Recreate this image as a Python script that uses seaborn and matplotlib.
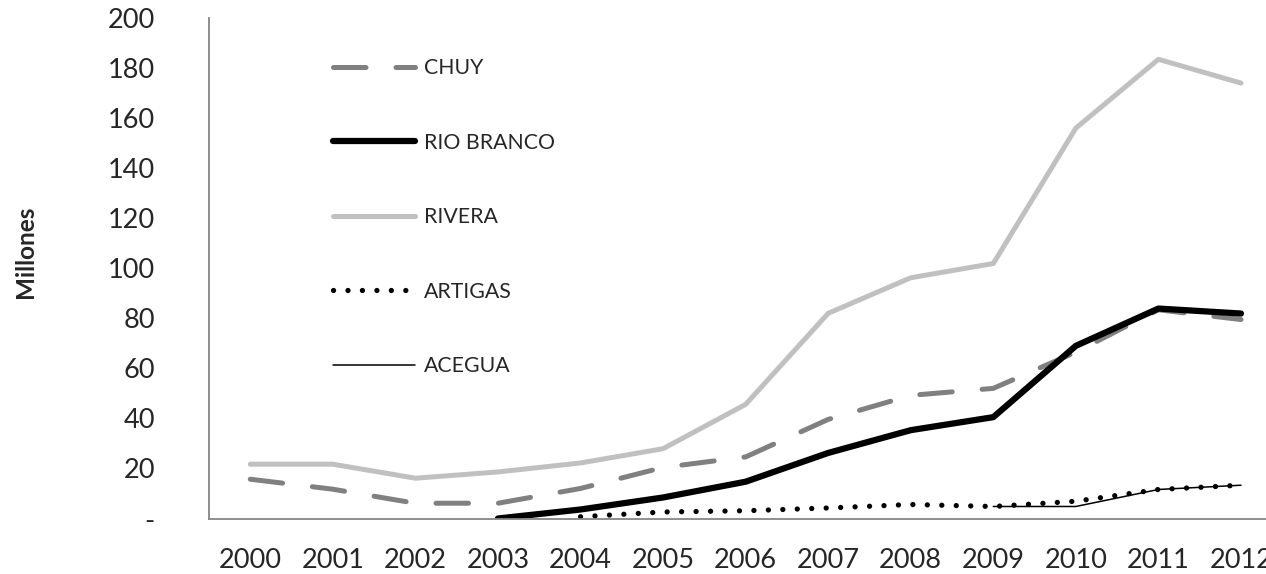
import numpy as np
import pandas as pd
import matplotlib
matplotlib.use("Agg")
import matplotlib.pyplot as plt
import seaborn as sns

# --- data (millones) ---
years = [2000, 2001, 2002, 2003, 2004, 2005, 2006, 2007, 2008, 2009, 2010, 2011, 2012]
chuy = [15.7, 11.7, 6.1, 6.1, 12.0, 20.4, 24.6, 39.6, 49.2, 52.0, 66.5, 83.4, 79.5]
rio_branco = [np.nan, np.nan, np.nan, 0.0, 3.6, 8.4, 14.7, 26.2, 35.3, 40.5, 69.0, 83.9, 81.9]
rivera = [21.7, 21.7, 16.1, 18.6, 22.2, 27.9, 45.6, 82.0, 96.2, 101.9, 156.0, 183.5, 174.0]
artigas = [np.nan, np.nan, np.nan, np.nan, 0.7, 2.6, 3.1, 4.2, 5.6, 4.8, 6.9, 11.6, 13.3]
acegua = [np.nan, np.nan, np.nan, np.nan, np.nan, np.nan, np.nan, np.nan, np.nan, 4.8, 4.8, 11.6, 13.3]
y_ticks = [0, 20, 40, 60, 80, 100, 120, 140, 160, 180, 200]

series = {
    "CHUY": chuy,
    "RIO BRANCO": rio_branco,
    "RIVERA": rivera,
    "ARTIGAS": artigas,
    "ACEGUA": acegua,
}
styles = {
    "CHUY": dict(color="#808080", lw=3.6, ls=(0, (6.5, 6.0))),
    "RIO BRANCO": dict(color="black", lw=4.5, ls="-"),
    "RIVERA": dict(color="#c0c0c0", lw=3.6, ls="-"),
    "ARTIGAS": dict(color="black", lw=3.8, ls=(0, (0.01, 2.73))),
    "ACEGUA": dict(color="black", lw=1.1, ls="-"),
}

df = pd.DataFrame(series)
df["pos"] = np.arange(len(years))

sns.set_theme(style="white")
plt.rcParams["font.family"] = ["Lato", "DejaVu Sans"]

fig = plt.figure(figsize=(12.66, 5.74), dpi=100)
ax = fig.add_axes([209 / 1266, 55.5 / 574, 1 - 209 / 1266, 500.5 / 574])

for name in series:
    st = styles[name]
    sns.lineplot(data=df, x="pos", y=name, ax=ax, color=st["color"], linewidth=st["lw"],
                 linestyle=st["ls"], label=name, solid_capstyle="round",
                 dash_capstyle="round")

# category ticks at the boundaries, labels at the centers
ax.set_xticks(np.arange(-0.5, len(years), 1.0))
ax.set_xticklabels([])
ax.set_xticks(np.arange(len(years)), minor=True)
ax.set_xticklabels([str(y) for y in years], minor=True)
ax.tick_params(axis="x", which="major", length=7, width=1.3, color="#868686", direction="out")
ax.tick_params(axis="x", which="minor", length=0, pad=21, labelsize=19.5)

ax.set_yticks(y_ticks)
ax.set_yticklabels(["-" if v == 0 else str(v) for v in y_ticks])
ax.tick_params(axis="y", length=7, width=1.3, color="#868686", direction="out", pad=32,
               labelsize=19.5)

# limits last, set_xticks would widen them otherwise
ax.set_xlim(-0.5, (1266 - 251) / 82.5)
ax.set_ylim(0, 200)

for s in ["top", "right"]:
    ax.spines[s].set_visible(False)
for s in ["left", "bottom"]:
    ax.spines[s].set_color("#868686")
    ax.spines[s].set_linewidth(1.3)

ax.set_xlabel("")
ax.set_ylabel("Millones", fontsize=17.5, fontweight="bold")
ax.yaxis.set_label_coords(37 / 1266, (574 - 252) / 574, transform=fig.transFigure)

leg = ax.legend(loc="upper left", bbox_to_anchor=((333 - 209) / 1057, 1 - (58 - 18) / 500.5),
                frameon=False, fontsize=15.3, handlelength=3.86, handletextpad=0.42,
                labelspacing=2.57, borderpad=0, borderaxespad=0)

fig.savefig("out.png", dpi=100)
